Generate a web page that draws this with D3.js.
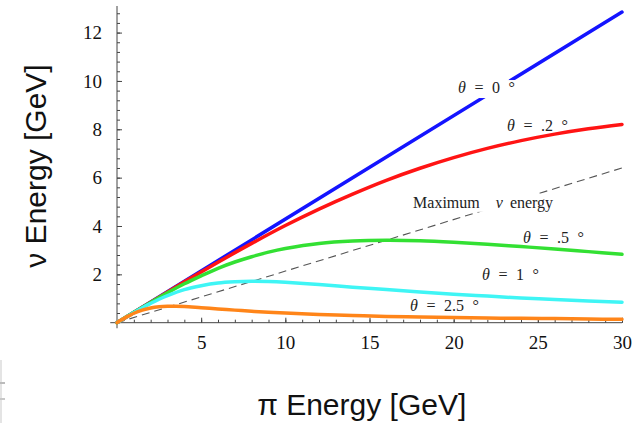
<!DOCTYPE html>
<html>
<head>
<meta charset="utf-8">
<script src="https://cdn.jsdelivr.net/npm/d3@7"></script>
<style>
  html, body { margin: 0; padding: 0; background: #fff; }
  svg { display: block; }
</style>
</head>
<body>
<svg id="chart" width="640" height="423"></svg>
<script>
// ---- data ----
const xTicks = [5, 10, 15, 20, 25, 30];
const yTicks = [2, 4, 6, 8, 10, 12];

const blueE = [0, 30];
const blueNu = [0, 12.85];

const redE = [0, 2, 4, 6, 8, 10, 12, 14, 16, 18, 20, 22, 24, 26, 28, 30];
const redNu = [0, 0.85, 1.69, 2.50, 3.28, 4.02, 4.70, 5.32, 5.89, 6.39, 6.83, 7.21, 7.53, 7.80, 8.02, 8.20];

const greenE = [0, 1, 2, 3, 4, 5, 6, 7, 8, 9, 10, 12, 14, 16, 18, 20, 22, 24, 26, 28, 30];
const greenNu = [0, 0.43, 0.84, 1.24, 1.61, 1.94, 2.25, 2.51, 2.73, 2.92, 3.07, 3.28, 3.38, 3.41, 3.39, 3.33, 3.25, 3.15, 3.05, 2.94, 2.83];

const cyanE = [0, 0.5, 1, 1.5, 2, 2.5, 3, 4, 5, 6, 7, 8, 9, 10, 12, 14, 16, 18, 20, 22, 24, 26, 28, 30];
const cyanNu = [0, 0.21, 0.42, 0.62, 0.80, 0.97, 1.12, 1.37, 1.53, 1.64, 1.69, 1.71, 1.70, 1.67, 1.58, 1.47, 1.37, 1.27, 1.18, 1.10, 1.02, 0.96, 0.90, 0.85];

const orangeE = [0, 0.25, 0.5, 0.75, 1, 1.5, 2, 2.5, 3, 3.5, 4, 5, 6, 7, 8, 9, 10, 12, 14, 16, 18, 20, 22, 24, 26, 28, 30];
const orangeNu = [0, 0.11, 0.21, 0.30, 0.39, 0.52, 0.61, 0.66, 0.68, 0.68, 0.67, 0.62, 0.57, 0.52, 0.47, 0.43, 0.40, 0.34, 0.30, 0.26, 0.24, 0.21, 0.19, 0.18, 0.17, 0.15, 0.14];

const maxE = [0, 30];
const maxNu = [0, 6.4];

// ---- layout ----
const svg = d3.select("#chart");
const x = d3.scaleLinear().domain([0, 30]).range([117, 622]);
const y = d3.scaleLinear().domain([0, 13.1]).range([322.7, 6]);

const zip = (xs, ys) => xs.map((v, i) => [v, ys[i]]);
const line = d3.line().x(d => x(d[0])).y(d => y(d[1])).curve(d3.curveCatmullRom.alpha(0.5));

// faint scan artefacts bottom-left
svg.append("line").attr("x1", 1).attr("x2", 1).attr("y1", 360).attr("y2", 423)
  .attr("stroke", "#e4e4e4").attr("stroke-width", 2);
svg.append("rect").attr("x", 0).attr("y", 382).attr("width", 5).attr("height", 2).attr("fill", "#bbb");
svg.append("rect").attr("x", 0).attr("y", 398).attr("width", 5).attr("height", 2).attr("fill", "#c8c8c8");

// axes
const axisColor = "#444";
const gx = svg.append("g").attr("transform", `translate(0,${y(0)})`);
gx.call(d3.axisBottom(x).tickValues(d3.range(1, 31)).tickSizeInner(-3).tickSizeOuter(0).tickFormat(""));
gx.call(g => g.select(".domain").remove());
const gx2 = svg.append("g").attr("transform", `translate(0,${y(0)})`);
gx2.call(d3.axisBottom(x).tickValues(xTicks).tickSizeInner(-5).tickSizeOuter(0).tickPadding(13).tickFormat(d3.format("d")));
gx2.select(".domain").remove();

const gy = svg.append("g").attr("transform", `translate(${x(0)},0)`);
gy.call(d3.axisLeft(y).tickValues(d3.range(1, 33).map(i => +(i * 0.4).toFixed(1))).tickSizeInner(-3).tickSizeOuter(0).tickFormat(""));
gy.select(".domain").remove();
const gy2 = svg.append("g").attr("transform", `translate(${x(0)},0)`);
gy2.call(d3.axisLeft(y).tickValues(yTicks).tickSizeInner(-5).tickSizeOuter(0).tickPadding(15).tickFormat(d3.format("d")));
gy2.select(".domain").remove();

svg.selectAll(".tick line").attr("stroke", axisColor);
svg.selectAll(".tick text").attr("font-family", "'Liberation Serif', 'DejaVu Serif', serif")
  .attr("font-size", 19).attr("fill", "#111");

svg.append("line").attr("x1", x(-0.4)).attr("x2", x(30)).attr("y1", y(0)).attr("y2", y(0))
  .attr("stroke", axisColor).attr("stroke-width", 1);
svg.append("line").attr("x1", x(0)).attr("x2", x(0)).attr("y1", y(-0.23)).attr("y2", y(13.1))
  .attr("stroke", axisColor).attr("stroke-width", 1);

// dashed maximum line
svg.append("path").datum(zip(maxE, maxNu)).attr("d", d3.line().x(d => x(d[0])).y(d => y(d[1])))
  .attr("fill", "none").attr("stroke", "#555").attr("stroke-width", 1.1).attr("stroke-dasharray", "8,5");

// curves
const series = [
  { e: blueE, nu: blueNu, color: "#1414ff" },
  { e: redE, nu: redNu, color: "#ff1414" },
  { e: greenE, nu: greenNu, color: "#33e033" },
  { e: cyanE, nu: cyanNu, color: "#3ff5f5" },
  { e: orangeE, nu: orangeNu, color: "#ff8519" }
];
series.forEach(s => {
  svg.append("path").datum(zip(s.e, s.nu)).attr("d", line)
    .attr("fill", "none").attr("stroke", s.color).attr("stroke-width", 3.5)
    .attr("stroke-linecap", "round").attr("stroke-linejoin", "round");
});

// annotations (positions in data units)
const serif = "'Liberation Serif', 'Times New Roman', serif";
function thetaLabel(ex, ey, val, bg) {
  const g = svg.append("g");
  const t = g.append("text").attr("x", x(ex)).attr("y", y(ey))
    .attr("font-family", serif).attr("font-size", 16).attr("fill", "#222")
    .attr("xml:space", "preserve").style("white-space", "pre").attr("word-spacing", 4.5);
  t.append("tspan").attr("font-style", "italic").text("θ");
  t.append("tspan").text(" = " + val + " °");
  if (bg) {
    const b = t.node().getBBox();
    g.insert("rect", "text").attr("x", b.x - 2).attr("y", b.y + 1).attr("width", b.width + 4).attr("height", b.height + 1).attr("fill", "#fff");
  }
}
thetaLabel(20.26, 9.50, "0", true);
thetaLabel(23.17, 7.93, ".2", false);
thetaLabel(24.12, 3.30, ".5", false);
thetaLabel(21.69, 1.77, "1", false);
thetaLabel(17.41, 0.48, "2.5", false);

// maximum label
{
  const g = svg.append("g");
  const t = g.append("text").attr("x", x(17.59)).attr("y", y(4.75))
    .attr("font-family", serif).attr("font-size", 16).attr("fill", "#222");
  t.append("tspan").text("Maximum");
  t.append("tspan").attr("dx", 16).attr("font-style", "italic").text("ν");
  t.append("tspan").attr("dx", 7).text("energy");
  const b = t.node().getBBox();
  g.insert("rect", "text").attr("x", b.x - 3).attr("y", b.y).attr("width", b.width + 6).attr("height", b.height).attr("fill", "#fff");
}

// axis titles
const sans = "'Liberation Sans', Arial, Helvetica, sans-serif";
svg.append("text").attr("x", 361.7).attr("y", 415).attr("text-anchor", "middle")
  .attr("font-family", sans).attr("font-size", 30).attr("fill", "#111").text("π Energy [GeV]");
svg.append("text").attr("transform", "translate(46,166) rotate(-90)").attr("text-anchor", "middle")
  .attr("font-family", sans).attr("font-size", 30).attr("fill", "#111").text("ν Energy  [GeV]");
</script>
</body>
</html>
